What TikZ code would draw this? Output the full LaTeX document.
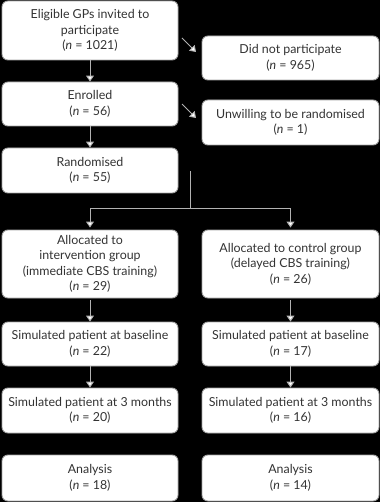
\documentclass[tikz,border=0pt]{standalone}
\usepackage{fontspec}
\setmainfont{Lato}
\usetikzlibrary{arrows.meta,calc}
\begin{document}
\begin{tikzpicture}[x=1pt,y=-1pt,
  box/.style={draw=gray!70,fill=white,line width=0.9pt,rounded corners=6pt,align=center,
    inner sep=0pt,font=\fontsize{12.4}{15.5}\selectfont,text=black!80},
  lbox/.style={box,minimum width=176pt},
  rbox/.style={box,minimum width=177pt},
  arr/.style={draw=gray!60,line width=1pt,-{Triangle[open,fill=white,length=6pt,width=8pt]}},
  ln/.style={draw=gray!60,line width=1pt}]
\fill[black] (0,0) rectangle (380,502);
\useasboundingbox (0,0) rectangle (380,502);
\node[lbox,minimum height=59pt] (elig) at (90,30.5) {Eligible GPs invited to\\participate\\(\textit{n} = 1021)};
\node[rbox,minimum height=44pt] (dnp) at (290.5,58) {Did not participate\\(\textit{n} = 965)};
\node[lbox,minimum height=44pt] (enr) at (90,104) {Enrolled\\(\textit{n} = 56)};
\node[rbox,minimum height=45pt] (unw) at (290.5,122.5) {Unwilling to be randomised\\(\textit{n} = 1)};
\node[lbox,minimum height=45pt] (rand) at (90,170.5) {Randomised\\(\textit{n} = 55)};
\node[lbox,minimum height=68pt] (intv) at (90,264) {Allocated to\\intervention group\\(immediate CBS training)\\(\textit{n} = 29)};
\node[rbox,minimum height=68pt] (ctrl) at (290.5,264) {Allocated to control group\\(delayed CBS training)\\(\textit{n} = 26)};
\node[lbox,minimum height=44pt] (lb) at (90,344) {Simulated patient at baseline\\(\textit{n} = 22)};
\node[rbox,minimum height=44pt] (rb) at (290.5,344) {Simulated patient at baseline\\(\textit{n} = 17)};
\node[lbox,minimum height=45pt] (l3) at (90,410.5) {Simulated patient at 3 months\\(\textit{n} = 20)};
\node[rbox,minimum height=45pt] (r3) at (290.5,410.5) {Simulated patient at 3 months\\(\textit{n} = 16)};
\node[lbox,minimum height=46pt] (la) at (90,478) {Analysis\\(\textit{n} = 18)};
\node[rbox,minimum height=46pt] (ra) at (290.5,478) {Analysis\\(\textit{n} = 14)};
% diagonal arrows
\coordinate (d1s) at (182,38); \coordinate (d1e) at (196,52);
\coordinate (d2s) at (182,104); \coordinate (d2e) at (196,118);
\draw[arr] (d1s) -- (d1e);
\draw[arr] (d2s) -- (d2e);
% vertical arrows
\draw[arr] (elig.south) -- (enr.north);
\draw[arr] (enr.south) -- (rand.north);
\coordinate (split) at (190,171);
\coordinate (splitb) at (190,209);
\coordinate (lsp) at (90,209);
\coordinate (rsp) at (290.5,209);
\draw[ln] (split) -- (splitb);
\draw[ln] (lsp) -- (rsp);
\draw[arr] (lsp) -- ($(intv.north)+(0,-2)$);
\draw[arr] (rsp) -- ($(ctrl.north)+(0,-2)$);
\draw[arr] ($(intv.south)+(0,2)$) -- (lb.north);
\draw[arr] ($(ctrl.south)+(0,2)$) -- (rb.north);
\draw[arr] (lb.south) -- (l3.north);
\draw[arr] (rb.south) -- (r3.north);
\end{tikzpicture}
\end{document}
